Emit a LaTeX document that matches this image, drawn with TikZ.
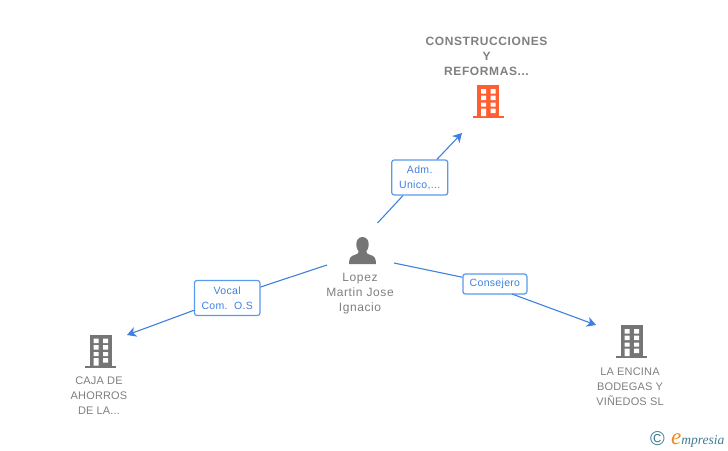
\documentclass[tikz,border=0pt]{standalone}
\usepackage{fontspec}
\setmainfont{Liberation Sans}
\newfontfamily\spacedfont[LetterSpace=5]{Liberation Sans}
\newfontfamily\capsfont[LetterSpace=1.5]{Liberation Sans}
\newfontfamily\smallfont[LetterSpace=3]{Liberation Sans}
\newfontfamily\titlefont[LetterSpace=5]{Liberation Sans}
\newfontfamily\logofont{Liberation Serif}
\usetikzlibrary{arrows.meta}
\definecolor{txtgray}{HTML}{808080}
\definecolor{icongray}{HTML}{757575}
\definecolor{hiorange}{HTML}{FF5E30}
\definecolor{linkblue}{HTML}{3F80E0}
\definecolor{edgeblue}{HTML}{5A9AEA}
\definecolor{logoteal}{HTML}{3E7C92}
\definecolor{logoorange}{HTML}{F08A1D}
\newcommand{\lowered}[1]{\raisebox{-1.2pt}{#1}}
\tikzset{
  x=1pt,y=-1pt,
  persontext/.style={inner sep=0pt,align=center,text=txtgray,font=\fontsize{12}{15}\selectfont\spacedfont},
  nodetext/.style={inner sep=0pt,align=center,text=txtgray,font=\fontsize{11}{15}\selectfont\capsfont},
  titletext/.style={inner sep=0pt,align=center,text=txtgray,font=\fontsize{12}{15}\selectfont\titlefont\bfseries},
  linklabel/.style={draw=edgeblue,line width=1.2pt,rounded corners=2.5pt,fill=white,text=linkblue,
    inner sep=0pt,align=center,font=\fontsize{10.5}{15}\selectfont\smallfont},
  linkline/.style={draw=linkblue,line width=1.1pt},
  linkarrow/.style={linkline,-{Stealth[length=9pt,width=10pt,inset=2.5pt]}},
  pics/bldg/.style={code={
    \fill[#1] (-11,0) rectangle (11,31);
    \fill[#1] (-15.5,31) rectangle (15.5,33);
    \fill[white] (-7,4) rectangle (-2,8.5) (2.5,4) rectangle (7.5,8.5)
      (-7,10.5) rectangle (-2,15) (2.5,10.5) rectangle (7.5,15)
      (-7,17.5) rectangle (-2,21.5) (2.5,17.5) rectangle (7.5,21.5)
      (-7,23.5) rectangle (-2,31) (2.5,23.5) rectangle (7.5,28);
  }},
  pics/personicon/.style={code={
    \fill[#1] (0,0) .. controls (4,0) and (6.3,3.5) .. (6.2,7.5)
      .. controls (6.1,11) and (4.8,13) .. (3.8,14.5)
      .. controls (3.8,16.5) and (5,17) .. (8,18)
      .. controls (11.5,19) and (13.5,20.5) .. (13.5,27)
      -- (-13.5,27)
      .. controls (-13.5,20.5) and (-11.5,19) .. (-8,18)
      .. controls (-5,17) and (-3.8,16.5) .. (-3.8,14.5)
      .. controls (-4.8,13) and (-6.1,11) .. (-6.2,7.5)
      .. controls (-6.3,3.5) and (-4,0) .. (0,0) -- cycle;
  }}
}
\begin{document}
\begin{tikzpicture}
\useasboundingbox[fill=white] (0,0) rectangle (728,450);

% icons
\pic at (488,85) {bldg=hiorange};
\pic at (100.5,334.5) {bldg=icongray};
\pic at (631.5,325) {bldg=icongray};
\pic at (362.5,237) {personicon=icongray};

% labels of entities
\node[titletext] (title) at (486.5,56) {CONSTRUCCIONES\\Y\\REFORMAS...};
\node[persontext] (person) at (360,294) {Lopez\\Martin Jose\\Ignacio};
\node[nodetext] (caja) at (99,395.5) {CAJA DE\\AHORROS\\DE LA...};
\node[nodetext] (encina) at (630,386.5) {LA ENCINA\\BODEGAS Y\\VIÑEDOS SL};

% connector ends
\coordinate (pTop) at (377.5,223);
\coordinate (pLeft) at (327,265);
\coordinate (pRight) at (394,263);
\coordinate (tTop) at (462,133);
\coordinate (tLeft) at (127,335);
\coordinate (tRight) at (596,325);
\coordinate (rOut) at (512,294);

% link labels
\node[linklabel,minimum width=56pt,minimum height=35pt] (adm) at (419.7,177.5) {\lowered{Adm.}\\\lowered{Unico,...}};
\node[linklabel,minimum width=65.5pt,minimum height=35pt] (vocal) at (227.2,298) {Vocal\\Com.\ \ O.S};
\node[linklabel,minimum width=64pt,minimum height=20pt] (cons) at (494.9,284) {\lowered{Consejero}};

% connectors
\draw[linkline] (pTop) -- (adm);
\draw[linkarrow] (adm) -- (tTop);
\draw[linkline] (pLeft) -- (vocal);
\draw[linkarrow] (vocal) -- (tLeft);
\draw[linkline] (pRight) -- (cons);
\draw[linkarrow] (rOut) -- (tRight);

% logo
\node[inner sep=0pt,text=logoteal,font=\fontsize{20}{20}\selectfont] (copy) at (657.5,439) {©};
\node[inner sep=0pt,anchor=base west,font=\fontsize{13.5}{13.5}\selectfont\logofont\itshape,text=logoteal] (logo) at (671,444)
  {\textcolor{logoorange}{\fontsize{23}{23}\selectfont e}mpresia};
\end{tikzpicture}
\end{document}
